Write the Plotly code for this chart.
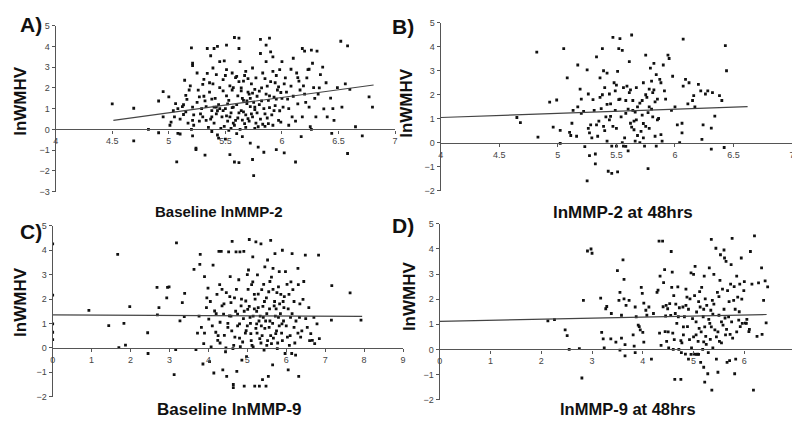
import plotly.graph_objects as go

# ---------------- data ----------------
a_points = [
    (4.50, 1.23), (4.69, 1.02), (4.69, -0.55), (4.82, 0.0), (4.91, 1.37), (4.95, 1.82), (4.95, 0.6),
    (4.91, -0.16), (5.0, 1.57), (5.01, 0.2), (5.02, 0.35), (5.04, 0.9), (5.07, -1.56), (5.08, -0.19),
    (5.1, -0.22), (5.13, 0.72), (5.14, 2.37), (5.06, 1.24), (5.15, 1.64), (5.13, 1.19), (5.2, 3.93),
    (5.21, 3.19), (5.21, 3.08), (5.21, 1.07), (5.21, 0.44), (5.22, 0.2), (5.21, -0.31), (5.24, -0.97),
    (5.24, -0.9), (5.25, 2.72), (5.26, 1.89), (5.27, 1.57), (5.28, 0.75), (5.3, 2.17), (5.31, 2.41),
    (5.32, -1.24), (5.32, 1.38), (5.33, 0.44), (5.34, 3.9), (5.36, 2.25), (5.37, 3.55), (5.38, 1.46),
    (5.38, 0.91), (5.38, 0.6), (5.39, 2.96), (5.4, 3.9), (5.4, 1.07), (5.42, 2.64), (5.43, -0.27),
    (5.42, 1.07), (5.43, 4.0), (5.44, -0.42), (5.45, 2.01), (5.45, 3.27), (5.48, 1.86), (5.48, 0.91),
    (5.49, 3.3), (5.5, -0.47), (5.51, 2.88), (5.51, 1.62), (5.51, 4.06), (5.52, 1.23), (5.54, 0.6),
    (5.54, -1.21), (5.55, 0.05), (5.56, 2.72), (5.57, 2.01), (5.57, 1.07), (5.58, 4.43), (5.58, -1.57),
    (5.59, 0.44), (5.6, 2.56), (5.61, 1.62), (5.62, -1.6), (5.62, 4.4), (5.62, 3.9), (5.63, 3.27),
    (5.64, 1.86), (5.64, 0.91), (5.65, -0.35), (5.66, 2.33), (5.67, 0.28), (5.68, 2.8), (5.69, 1.38),
    (5.7, 0.52), (5.71, 1.7), (5.72, -0.66), (5.73, 0.75), (5.74, -1.45), (5.74, 2.96), (5.75, -2.23),
    (5.76, 1.93), (5.76, 1.07), (5.77, 2.48), (5.79, 0.13), (5.79, -0.85), (5.81, 4.34), (5.81, 3.66),
    (5.82, 1.38), (5.83, 2.72), (5.84, -1.1), (5.85, 0.75), (5.86, 3.27), (5.86, 4.06), (5.87, 2.09),
    (5.88, 0.28), (5.89, 4.4), (5.89, 1.62), (5.9, 3.74), (5.92, 3.5), (5.92, 2.8), (5.93, 0.91),
    (5.94, 2.25), (5.95, -0.97), (5.95, 1.46), (5.97, 0.44), (5.98, 2.88), (5.99, 1.78), (6.0, 3.27),
    (6.01, 1.07), (6.02, -1.13), (6.03, 2.48), (6.05, 1.46), (6.06, 0.2), (6.08, 2.09), (6.09, 0.6),
    (6.1, 3.43), (6.12, -1.57), (6.13, 2.72), (6.14, 1.23), (6.15, 2.33), (6.17, -0.35), (6.18, 3.9),
    (6.18, 0.6), (6.2, 1.7), (6.2, 3.77), (6.22, 2.48), (6.23, 2.88), (6.24, 1.07), (6.25, 0.13),
    (6.26, 3.82), (6.27, 3.19), (6.28, 2.01), (6.3, 0.6), (6.31, 3.77), (6.32, 1.7), (6.34, 2.64),
    (6.37, 0.99), (6.39, 2.25), (6.43, 1.51), (6.44, -0.19), (6.46, 0.44), (6.49, 2.01), (6.52, 4.25),
    (6.53, 1.07), (6.56, 2.2), (6.58, 4.03), (6.58, -1.16), (6.6, 1.93), (6.65, 0.13), (6.71, -0.31),
    (6.77, 1.57), (6.8, 1.07),
    (5.35, 0.1), (5.37, 0.5), (5.4, 0.3), (5.42, 0.75), (5.44, 1.2), (5.46, 0.05), (5.47, 0.6),
    (5.5, 1.0), (5.52, 0.4), (5.53, 1.4), (5.55, 0.8), (5.56, 1.9), (5.58, 0.2), (5.6, 1.2),
    (5.61, 0.55), (5.62, 2.3), (5.63, 0.0), (5.65, 1.5), (5.66, 0.85), (5.67, 2.6), (5.68, 0.1),
    (5.69, 1.25), (5.7, 1.8), (5.71, 0.4), (5.72, 1.1), (5.73, 2.2), (5.74, 0.6), (5.75, 1.3),
    (5.76, 0.95), (5.77, 0.3), (5.78, 1.6), (5.8, 1.2), (5.81, 0.5), (5.82, 2.0), (5.84, 1.0),
    (5.85, 0.15), (5.86, 1.7), (5.88, 1.4), (5.9, 2.3), (5.91, 0.7), (5.93, 1.55), (5.95, 2.6),
    (5.96, 1.9), (5.98, 0.9), (6.0, 1.5), (6.02, 2.2), (6.04, 1.8), (6.06, 1.0), (6.08, 2.9),
    (6.1, 1.6), (6.12, 0.4), (6.14, 2.5), (6.16, 1.9), (6.19, 2.1), (6.21, 1.3), (6.24, 2.9),
    (6.26, 0.0), (6.29, 1.5), (6.33, 2.0), (6.36, 3.0), (6.4, 0.6), (6.45, 1.0), (5.2, 0.0),
    (5.22, 0.7), (5.25, 1.3), (5.27, 0.4), (5.29, 1.0), (5.3, 0.6), (5.31, 1.6), (5.33, 1.1),
    (5.34, 2.7), (5.36, 1.8), (5.38, -0.1), (5.39, 2.2), (5.41, 1.5), (5.43, 0.9), (5.45, 1.0),
    (5.48, 2.4), (5.49, 0.15), (5.5, 2.6), (5.51, 0.65), (5.53, -0.05), (5.54, 2.1), (5.56, 1.05),
    (5.57, 0.3), (5.59, 2.5), (5.6, -0.2), (5.62, 0.8), (5.64, 2.0), (5.65, 0.45), (5.66, 1.4),
    (5.68, 0.7), (5.7, 2.45), (5.72, 1.5), (5.74, 1.75), (5.76, 0.05), (5.78, 0.8), (5.8, 1.85),
    (5.83, 0.25), (5.85, 2.45), (5.87, 0.55), (5.89, 1.05), (5.92, 0.2), (5.94, 1.15), (5.97, 2.05),
    (5.99, 0.35), (5.1, 0.5), (5.12, 1.1), (5.15, 0.85), (5.17, 0.3), (5.18, 1.9), (5.05, 0.6),
    (5.08, 1.0), (5.16, 1.45), (5.19, 2.1),
]
a_fit_x = [4.51, 6.81]
a_fit_y = [0.44, 2.14]

b_points = [
    (4.65, 1.05), (4.68, 0.84), (4.82, 3.78), (4.83, 0.23), (4.93, 1.69), (4.96, 0.65), (4.99, 1.78),
    (5.02, -0.03), (5.02, 0.51), (5.05, 3.92), (5.08, 2.7), (5.1, 0.43), (5.11, 0.3), (5.12, 0.81),
    (5.13, 1.35), (5.16, 0.27), (5.17, 3.24), (5.17, 1.49), (5.19, 2.23), (5.2, 1.82), (5.2, 1.22),
    (5.23, -0.16), (5.25, -1.59), (5.25, 3.04), (5.26, 2.03), (5.27, 0.41), (5.27, -0.54), (5.28, 0.74),
    (5.29, 0.2), (5.31, 1.35), (5.32, -0.47), (5.32, -0.88), (5.33, 3.58), (5.33, 0.74), (5.34, 0.27),
    (5.36, 1.89), (5.36, 2.7), (5.37, 1.42), (5.38, 3.92), (5.39, 0.68), (5.39, 3.0), (5.4, 2.3),
    (5.41, 1.08), (5.42, 2.9), (5.42, 0.07), (5.43, -1.19), (5.44, 0.95), (5.44, 2.03), (5.45, 1.62),
    (5.46, -0.14), (5.46, -1.28), (5.47, 4.39), (5.47, 0.68), (5.48, 2.5), (5.49, 2.16), (5.49, 1.35),
    (5.5, -0.14), (5.51, -1.22), (5.51, 2.97), (5.52, 3.92), (5.53, 4.34), (5.53, 1.82), (5.54, 1.08),
    (5.55, 3.85), (5.56, 2.3), (5.56, -0.14), (5.57, 0.2), (5.58, 1.76), (5.58, 1.22), (5.59, 2.36),
    (5.6, -0.34), (5.61, 3.38), (5.61, 2.09), (5.62, 0.81), (5.63, 4.49), (5.64, 1.35), (5.64, 1.76),
    (5.65, 0.54), (5.66, 1.28), (5.66, 0.07), (5.67, 0.95), (5.68, 1.49), (5.7, 0.0), (5.71, 0.47),
    (5.72, 1.76), (5.73, 2.5), (5.73, 0.2), (5.74, -0.14), (5.75, 3.65), (5.75, 0.68), (5.76, 1.89),
    (5.77, -1.08), (5.78, 2.23), (5.78, 1.49), (5.79, 3.11), (5.8, 2.57), (5.81, 1.08), (5.81, 2.09),
    (5.82, 3.31), (5.83, 0.27), (5.84, 2.84), (5.84, -0.14), (5.85, 1.82), (5.86, 1.01), (5.87, 2.64),
    (5.88, 0.34), (5.89, 0.07), (5.9, 3.24), (5.91, 2.16), (5.92, 1.82), (5.94, 3.65), (5.95, 3.51),
    (5.97, 1.35), (5.98, 2.77), (6.0, 1.49), (6.02, 0.74), (6.04, 0.0), (6.06, 0.41), (6.06, 0.81),
    (6.07, 4.32), (6.07, 2.36), (6.09, 2.64), (6.11, 1.62), (6.12, 2.5), (6.15, 1.76), (6.16, 1.96),
    (6.17, 1.49), (6.2, 2.43), (6.22, 2.16), (6.23, 0.14), (6.24, 0.74), (6.26, 2.03), (6.28, 2.16),
    (6.31, -0.27), (6.31, 0.61), (6.32, 2.09), (6.34, 1.11), (6.38, 1.96), (6.4, 1.76), (6.42, -0.2),
    (6.43, 4.05), (6.44, 3.0),
    (5.4, 0.5), (5.45, 1.1), (5.5, 0.6), (5.52, 1.8), (5.55, 0.0), (5.6, 1.4), (5.62, 2.2),
    (5.65, 0.9), (5.68, 0.3), (5.7, 1.65), (5.72, 1.15), (5.75, 2.0), (5.78, 0.6), (5.8, 1.4),
    (5.83, 1.7), (5.85, 0.95), (5.88, 2.5), (5.5, 2.4), (5.42, 1.6), (5.38, 2.0), (5.35, 0.9),
    (5.58, -0.15), (5.63, 0.65), (5.67, 2.3), (5.73, 0.8), (5.77, 1.25), (5.82, 2.2), (5.3, 1.8),
    (5.26, 0.6), (5.22, 1.3),
]
b_fit_x = [4.0, 6.62]
b_fit_y = [1.05, 1.5]

c_points = [
    (0.0, 4.26), (0.0, 2.16), (0.0, 0.98), (0.0, 0.64), (0.0, 0.34), (0.93, 1.54), (1.44, 0.91),
    (1.67, 3.83), (1.7, 0.01), (1.83, 1.0), (1.87, 0.11), (1.98, 1.69), (2.44, 0.62), (2.45, -0.23),
    (2.68, 2.48), (2.69, 1.35), (2.73, 1.65), (2.95, 2.48), (2.93, 2.05), (2.99, 2.5), (3.12, -1.1),
    (3.18, 4.3), (3.16, -0.07), (3.27, 1.11), (3.33, 1.85), (3.38, 1.28), (3.39, 2.23), (3.63, 3.22),
    (3.68, -0.07), (3.72, 0.6), (3.76, 1.3), (3.78, 3.42), (3.79, 3.83), (3.82, 0.84), (3.86, -0.66),
    (3.88, 0.17), (3.9, 2.92), (3.95, 1.65), (3.96, 2.05), (3.99, 2.45), (4.01, 1.18), (4.03, -0.56),
    (4.07, 0.04), (4.12, 3.39), (4.14, -1.03), (4.16, 1.51), (4.19, 0.64), (4.22, 2.19), (4.24, 0.31),
    (4.27, 3.95), (4.29, 2.59), (4.3, 1.05), (4.33, 3.95), (4.35, 1.72), (4.37, -0.9), (4.39, 1.38),
    (4.41, 0.51), (4.44, -0.16), (4.46, 2.26), (4.47, -1.17), (4.5, 0.84), (4.52, 3.93), (4.54, 1.31),
    (4.56, 2.92), (4.58, 1.85), (4.61, 4.36), (4.63, -0.03), (4.64, -1.5), (4.64, -1.63), (4.67, 2.05),
    (4.68, 0.44), (4.71, 3.93), (4.73, -0.96), (4.75, 1.38), (4.78, 2.79), (4.8, 0.98), (4.81, 3.93),
    (4.84, 1.72), (4.86, -0.5), (4.88, 0.24), (4.91, 3.95), (4.92, -1.57), (4.96, 1.92), (4.97, 0.71),
    (4.98, -0.36), (5.01, 1.58), (5.03, 3.19), (5.05, 4.44), (5.07, 1.25), (5.09, 0.58), (5.11, 2.59),
    (5.14, 3.73), (5.15, 0.04), (5.18, 2.19), (5.19, -1.57), (5.22, 4.34), (5.24, 0.98), (5.26, 2.99),
    (5.28, 1.65), (5.31, -1.57), (5.32, 0.38), (5.35, 4.26), (5.37, 2.39), (5.39, -1.3), (5.41, 1.25),
    (5.43, -0.09), (5.45, 3.32), (5.48, -1.57), (5.49, 2.05), (5.52, 3.6), (5.54, -1.17), (5.56, 0.84),
    (5.58, 2.72), (5.6, 4.4), (5.62, 0.17), (5.65, -0.7), (5.66, 3.26), (5.69, 1.72), (5.71, 3.86),
    (5.73, 0.58), (5.76, 2.26), (5.77, -0.03), (5.8, 1.25), (5.82, 3.12), (5.86, 2.19), (5.89, 0.98),
    (5.9, 4.0), (5.94, 1.65), (5.97, -0.23), (5.98, 3.12), (6.03, 0.44), (6.05, -0.9), (6.07, 2.19),
    (6.11, 1.25), (6.14, -0.23), (6.15, 3.86), (6.17, 2.39), (6.2, 0.84), (6.24, -0.3), (6.3, 3.26),
    (6.31, 2.59), (6.32, -1.17), (6.34, 1.25), (6.37, 0.44), (6.43, 1.99), (6.45, 2.72), (6.49, 3.8),
    (6.54, 0.84), (6.58, 1.65), (6.63, 0.58), (6.67, 0.31), (6.71, 1.25), (6.73, 0.17), (6.79, 0.98),
    (6.83, 3.8), (6.85, 0.38), (7.16, 1.14), (7.17, 2.55), (7.64, 2.25), (7.92, 1.14),
    (4.5, 1.0), (4.6, 0.7), (4.7, 1.5), (4.8, 0.4), (4.9, 1.2), (5.0, 0.9), (5.05, 1.7),
    (5.1, 0.3), (5.15, 1.3), (5.2, 2.0), (5.25, 0.6), (5.3, 1.1), (5.35, 0.2), (5.4, 1.7),
    (5.45, 0.8), (5.5, 1.4), (5.55, 2.3), (5.6, 0.5), (5.65, 1.0), (5.7, 1.9), (5.75, 0.7),
    (5.8, 2.5), (5.85, 1.4), (5.9, 0.3), (5.95, 2.1), (6.0, 0.9), (6.05, 1.6), (6.1, 0.5),
    (6.2, 1.9), (6.25, 1.1), (6.4, 0.7), (6.5, 1.2), (4.2, 1.4), (4.3, 0.2), (4.4, 1.8),
    (4.55, 2.1), (4.65, 0.1), (4.75, 0.9), (4.85, 2.0), (4.95, 0.6), (5.02, 2.4), (5.08, 1.0),
    (5.12, 0.1), (5.18, 1.6), (5.22, 0.8), (5.28, 2.2), (5.33, 1.3), (5.38, 0.5), (5.42, 2.6),
    (5.47, 1.1), (5.52, 0.3), (5.57, 1.6), (5.62, 2.9), (5.67, 0.4), (5.72, 1.3), (5.78, 0.2),
    (5.83, 1.8), (5.88, 0.6), (5.93, 1.1), (6.02, 2.6), (6.08, 0.1), (6.15, 1.4), (6.3, 0.6),
    (3.9, 0.6), (4.05, 1.9), (4.1, 0.9), (4.25, 0.5), (4.35, 2.4), (4.45, 0.0), (4.58, 1.3),
    (4.72, 2.4), (4.82, 0.05), (4.92, 1.5), (5.0, 3.0), (5.14, 2.7), (5.24, 1.5), (5.36, 0.9),
    (5.44, 1.9), (5.5, 0.1), (5.58, 1.1), (5.66, 2.4), (5.74, 1.6), (5.82, 0.9), (5.92, 1.9),
    (6.12, 2.7), (6.22, 0.2), (6.35, 1.8), (6.6, 0.3),
]
c_fit_x = [0.0, 7.95]
c_fit_y = [1.35, 1.29]

d_points = [
    (2.13, 1.14), (2.26, 1.19), (2.47, 0.78), (2.51, 0.55), (2.55, 0.0), (2.75, 0.03), (2.8, -1.14),
    (2.83, 1.95), (2.91, 3.92), (2.98, 4.0), (3.0, 3.83), (3.17, 2.04), (3.19, 0.68), (3.22, 0.42),
    (3.24, 0.06), (3.27, 1.62), (3.29, 1.71), (3.37, 0.42), (3.38, 1.43), (3.47, 0.29), (3.5, 3.14),
    (3.53, 1.95), (3.55, 2.27), (3.55, -0.03), (3.58, 0.45), (3.58, 1.36), (3.61, 3.57), (3.63, 2.79),
    (3.63, 2.01), (3.65, 0.19), (3.65, -0.26), (3.67, 1.75), (3.73, 1.95), (3.81, 0.58), (3.83, 0.13),
    (3.85, -0.13), (3.85, 1.69), (3.87, 1.3), (3.91, 0.97), (3.93, 0.91), (3.95, 0.78), (3.97, 2.47),
    (3.99, 2.23), (4.0, 0.68), (4.02, 1.84), (4.02, 0.29), (4.06, 1.56), (4.08, 1.36), (4.12, 1.69),
    (4.17, -0.39), (4.21, 1.43), (4.28, 2.27), (4.3, 2.36), (4.32, 4.31), (4.33, 0.65), (4.34, 2.92),
    (4.36, 0.16), (4.39, 4.31), (4.41, 2.66), (4.43, 3.18), (4.44, 0.71), (4.45, 1.33), (4.46, 1.75),
    (4.47, 0.32), (4.49, 1.62), (4.51, 0.06), (4.53, 1.82), (4.56, 3.9), (4.57, 2.47), (4.58, 3.08),
    (4.59, 0.65), (4.61, 2.14), (4.62, 0.39), (4.63, -1.19), (4.64, 1.43), (4.67, 1.04), (4.69, 2.49),
    (4.71, 0.0), (4.72, 1.66), (4.75, -1.19), (4.76, -0.13), (4.77, 0.26), (4.79, 1.69), (4.8, 0.58),
    (4.82, 1.3), (4.84, -0.19), (4.85, 2.4), (4.87, 2.08), (4.88, 0.91), (4.9, -0.39), (4.92, 0.39),
    (4.93, 2.01), (4.95, 3.05), (4.96, 0.06), (4.98, 1.23), (5.0, 2.99), (5.01, -0.19), (5.02, 2.14),
    (5.03, 3.31), (5.05, 0.58), (5.06, 1.49), (5.08, -0.19), (5.09, 0.32), (5.11, 0.84), (5.13, 1.69),
    (5.14, -0.52), (5.16, 2.47), (5.18, 0.0), (5.19, 1.3), (5.2, -0.71), (5.21, 2.92), (5.22, -1.3),
    (5.23, 2.01), (5.24, 0.52), (5.26, 1.75), (5.28, -0.97), (5.29, -0.13), (5.31, 3.25), (5.32, 1.04),
    (5.34, 1.56), (5.35, 4.38), (5.36, -1.62), (5.37, 1.95), (5.38, 0.06), (5.4, 2.99), (5.42, 0.78),
    (5.44, 4.03), (5.45, -0.39), (5.47, 2.27), (5.48, -0.91), (5.5, 1.36), (5.51, 0.32), (5.53, 3.77),
    (5.55, 0.26), (5.57, 2.4), (5.58, 0.97), (5.6, 3.96), (5.61, 3.64), (5.63, 0.58), (5.64, 3.51),
    (5.66, -0.52), (5.67, 2.34), (5.69, 1.3), (5.71, -0.45), (5.73, 2.6), (5.74, 3.38), (5.76, 4.42),
    (5.77, 0.45), (5.79, 1.95), (5.81, -0.97), (5.83, -0.39), (5.85, 2.92), (5.87, 2.08), (5.89, 1.17),
    (5.91, 2.6), (5.92, 0.91), (5.94, 3.64), (5.96, 1.04), (5.99, 2.34), (6.04, 1.04), (6.09, 0.71),
    (6.12, 3.9), (6.15, 2.6), (6.18, -1.62), (6.2, 4.52), (6.25, 0.52), (6.34, 3.25), (6.38, 1.95),
    (6.41, 2.73), (6.43, 1.06), (6.46, 2.49),
    (4.7, 1.3), (4.8, 0.9), (4.9, 1.6), (5.0, 0.5), (5.05, 1.1), (5.1, 1.9), (5.15, 0.7),
    (5.2, 1.6), (5.25, 0.2), (5.3, 1.2), (5.35, 0.9), (5.4, 1.8), (5.45, 0.5), (5.5, 2.1),
    (5.55, 1.1), (5.6, 1.6), (5.65, 0.8), (5.7, 1.9), (5.75, 1.1), (5.8, 2.5), (5.85, 0.7),
    (5.9, 1.5), (6.0, 2.7), (6.05, 1.2), (6.1, 0.8), (4.95, -0.2), (5.05, -0.2), (5.1, -0.2),
    (5.2, 0.3), (5.33, 0.4), (4.6, 0.0), (4.4, 1.7), (4.5, 0.7), (4.55, 1.35), (4.65, 1.8),
    (4.75, 0.35), (4.85, 1.75), (5.12, 2.3), (5.22, 0.9), (5.38, 1.4), (5.48, 0.7), (5.52, 2.75),
    (5.62, 1.25), (5.72, 0.6), (5.82, 1.6), (5.95, 2.0), (6.02, 1.05), (6.28, 2.65), (6.35, 0.6),
]
d_fit_x = [0.0, 6.44]
d_fit_y = [1.12, 1.39]

x_ranges = {"A": [4, 7], "B": [4, 7], "C": [0, 9], "D": [0, 7]}
y_ranges = {"A": [-3, 5], "B": [-2, 5], "C": [-2, 5], "D": [-2, 5]}
x_dtick = {"A": 0.5, "B": 0.5, "C": 1, "D": 1}
x_titles = {"A": "Baseline lnMMP-2", "B": "lnMMP-2 at 48hrs",
            "C": "Baseline lnMMP-9", "D": "lnMMP-9 at 48hrs"}
y_title = "lnWMHV"

# ---------------- layout geometry (pixels of the 800x422 page) ----------------
W, H = 800, 422
boxes = {  # x0, x1, y_top, y_bottom in pixels
    "A": (45, 387, 13, 183),
    "B": (433, 787, 10, 182),
    "C": (42, 395, 218, 393),
    "D": (432, 790, 216, 396),
}

FONT = "Liberation Sans, Arial, sans-serif"
fig = go.Figure()

panels = [("A", a_points, a_fit_x, a_fit_y), ("B", b_points, b_fit_x, b_fit_y),
          ("C", c_points, c_fit_x, c_fit_y), ("D", d_points, d_fit_x, d_fit_y)]

layout = dict(
    width=W, height=H, margin=dict(l=0, r=0, t=0, b=0),
    paper_bgcolor="white", plot_bgcolor="white", showlegend=False,
)

for i, (key, pts, fx, fy) in enumerate(panels):
    n = "" if i == 0 else str(i + 1)
    xs = [p[0] for p in pts]
    ys = [p[1] for p in pts]
    fig.add_trace(go.Scatter(x=xs, y=ys, mode="markers", xaxis="x" + n, yaxis="y" + n,
                             marker=dict(symbol="square", size=2.8, color="#111111",
                                         line=dict(width=0))))
    fig.add_trace(go.Scatter(x=fx, y=fy, mode="lines", xaxis="x" + n, yaxis="y" + n,
                             line=dict(color="#444444", width=1.2)))
    x0, x1, yt, yb = boxes[key]
    ydom = [1 - yb / H, 1 - yt / H]
    ymin, ymax = y_ranges[key]
    zero_pos = ydom[0] + (0 - ymin) / (ymax - ymin) * (ydom[1] - ydom[0])
    layout["xaxis" + n] = dict(
        domain=[x0 / W, x1 / W], range=x_ranges[key], anchor="free", position=zero_pos,
        dtick=x_dtick[key], tick0=0, showgrid=False, zeroline=False, showline=True,
        linecolor="#555555", linewidth=1.2, ticks="outside", ticklen=3, tickcolor="#555555",
        tickfont=dict(family=FONT, size=9, color="#444444"),
    )
    layout["yaxis" + n] = dict(
        domain=ydom, range=[ymin, ymax], anchor="x" + n, dtick=1, showgrid=False,
        zeroline=False, showline=True, linecolor="#555555", linewidth=1.2, ticks="outside",
        ticklen=3, tickcolor="#555555", tickfont=dict(family=FONT, size=9, color="#444444"),
    )

fig.update_layout(**layout)

ann = []
labels = {"A": (20, 12), "B": (395, 14), "C": (20, 224), "D": (395, 218)}
for k, (px, py) in labels.items():
    ann.append(dict(text="<b>%s)</b>" % k, x=px / W, y=1 - py / H, xref="paper", yref="paper",
                    showarrow=False, font=dict(family=FONT, size=21, color="#111111"),
                    xanchor="center", yanchor="middle"))
ylab = {"A": (10, 90), "B": (399, 92), "C": (10, 296), "D": (401, 290)}
for k, (px, py) in ylab.items():
    ann.append(dict(text="<b>%s</b>" % y_title, x=px / W, y=1 - py / H, xref="paper",
                    yref="paper", showarrow=False, textangle=-90,
                    font=dict(family=FONT, size=17, color="#111111"),
                    xanchor="center", yanchor="middle"))
xlab = {"A": (210, 203, 15), "B": (617, 204, 17), "C": (220, 406, 17), "D": (622, 406, 16.5)}
for k, (px, py, fs) in xlab.items():
    ann.append(dict(text="<b>%s</b>" % x_titles[k], x=px / W, y=1 - py / H, xref="paper",
                    yref="paper", showarrow=False,
                    font=dict(family=FONT, size=fs, color="#111111"),
                    xanchor="center", yanchor="middle"))
fig.update_layout(annotations=ann)

fig.write_html("out.html")
